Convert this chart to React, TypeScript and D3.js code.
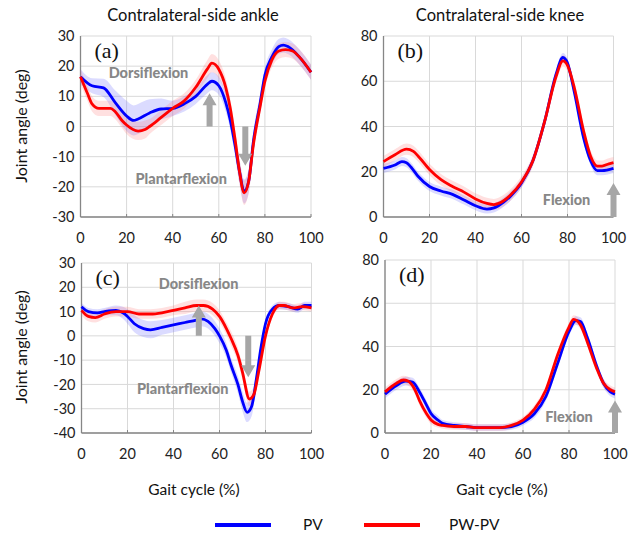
import * as d3 from 'd3'

type Pt = [number, number, number] // gait %, mean angle, sd

// (a) contralateral ankle, top row
const ankleTopPV: Pt[] = [
  [0, 16.5, 2.5], [5, 13.5, 2.5], [10, 12.8, 3], [15, 8, 4], [20, 3.5, 5], [23, 2, 5], [25, 2.5, 5],
  [30, 4.5, 4.5], [35, 5.8, 3.5], [40, 6, 2.5], [45, 7.5, 2.5], [50, 10, 2.5], [55, 14, 3], [57, 15, 3],
  [60, 13.5, 3], [63, 8, 3], [65, 2, 3], [67, -6, 3.5], [69, -15, 4], [71, -21.5, 4], [73, -18, 4],
  [75, -5, 3.5], [78, 8, 3], [80, 17, 2.5], [83, 23, 2.5], [86, 26.5, 2.5], [88, 27, 2.5], [90, 26.5, 2.5],
  [95, 23, 2.5], [100, 18, 2.5],
]
const ankleTopPW: Pt[] = [
  [0, 16.5, 2.5], [3, 11, 2.5], [5, 7.5, 2.5], [8, 6, 2.5], [10, 6, 2.5], [13, 6, 2.5], [15, 5, 2.5],
  [18, 2, 2.5], [20, 0.5, 3], [25, -1.5, 3], [28, -1, 3], [30, 0, 2.5], [35, 3, 2.5], [40, 6, 2.5],
  [45, 8.5, 2.5], [50, 13, 2.5], [55, 19, 3], [57, 21, 3], [60, 19, 3], [63, 13, 3], [65, 6, 3],
  [67, -4, 3.5], [69, -15, 4], [71, -22, 4], [73, -18, 4], [75, -6, 3.5], [78, 7, 3], [80, 15, 2.5],
  [83, 22, 2.5], [86, 25, 2.5], [89, 25.5, 2.5], [92, 25, 2.5], [95, 23, 2.5], [100, 18, 2.5],
]

// (b) contralateral knee, top row
const kneeTopPV: Pt[] = [
  [0, 21.5, 2], [5, 23, 2], [8, 24.5, 2], [10, 24, 2], [12, 22, 2], [15, 18, 2], [20, 13.5, 2],
  [25, 11.5, 2], [30, 10, 2], [35, 7.5, 2], [40, 5, 2], [45, 3.5, 2], [48, 4, 2], [50, 5, 2],
  [55, 9, 2], [60, 15, 2], [65, 25, 2], [70, 42, 2], [75, 63, 2], [78, 70.5, 2], [80, 68, 2],
  [83, 55, 2], [87, 35, 2], [90, 25, 2], [93, 20.5, 2], [95, 20.5, 2], [100, 21.5, 2],
]
const kneeTopPW: Pt[] = [
  [0, 24.5, 2.5], [5, 27.5, 2.5], [10, 30, 2.5], [13, 29, 2.5], [15, 27, 2.5], [20, 21, 2.5],
  [25, 16.5, 2.5], [30, 13.5, 2.5], [35, 11, 2.5], [40, 8, 2.5], [45, 6, 2.5], [48, 5.5, 2.5],
  [50, 6, 2.5], [55, 9.5, 2.5], [60, 15.5, 2.5], [65, 25, 2.5], [70, 42, 2.5], [75, 62, 2.5],
  [78, 69, 2.5], [80, 67, 2.5], [83, 57, 2.5], [87, 38, 2.5], [90, 27, 2.5], [93, 22.5, 2.5],
  [95, 22.5, 2.5], [98, 23.5, 2.5], [100, 24, 2.5],
]

// (c) contralateral ankle, bottom row
const ankleBotPV: Pt[] = [
  [0, 12, 1.5], [3, 10, 1.5], [7, 9.5, 1.5], [10, 10, 1.5], [15, 10.5, 2], [18, 9.5, 2.5], [20, 8, 3],
  [23, 5, 3.5], [27, 3, 3.5], [30, 2.5, 3.5], [35, 3.5, 3], [40, 4.5, 3], [45, 5.5, 3], [50, 6.5, 3],
  [52, 7, 3], [55, 6, 3], [58, 3, 3], [60, 0, 3], [63, -6, 3], [65, -12, 3], [68, -20, 3.5],
  [70, -27, 4], [72, -31.5, 4], [74, -29, 4], [76, -18, 3], [78, -5, 2], [80, 5, 1.5], [83, 11, 1.5],
  [86, 12.5, 1.5], [90, 12, 1.5], [94, 11, 1.5], [97, 12.5, 1.5], [100, 12.5, 1.5],
]
const ankleBotPW: Pt[] = [
  [0, 10.5, 2], [3, 8, 2], [6, 7.5, 2], [10, 9, 2], [15, 10, 2], [20, 10, 2], [25, 9, 2],
  [30, 9, 2], [35, 9.5, 2], [40, 10.5, 2], [45, 11.5, 2.5], [50, 12.5, 2.5], [53, 12.5, 2.5],
  [57, 11, 2.5], [60, 8, 2.5], [63, 3, 2.5], [65, -1, 3], [68, -8, 3], [70, -15, 3], [73, -26, 3],
  [75, -24, 3], [77, -15, 2.5], [80, 0, 2], [83, 9, 1.5], [86, 12.5, 1.5], [88, 12.5, 1.5],
  [92, 11.5, 1.5], [96, 12, 1.5], [100, 11.5, 1.5],
]

// (d) contralateral knee, bottom row
const kneeBotPV: Pt[] = [
  [0, 18, 2], [5, 22, 2], [9, 24, 2], [12, 23.5, 2], [15, 19, 2], [18, 13, 2], [20, 9, 2],
  [23, 6, 2], [25, 4.5, 1.5], [30, 3.5, 1.5], [35, 3, 1.5], [40, 2.5, 1.5], [45, 2.5, 1.5],
  [50, 2.5, 1.5], [55, 3, 1.5], [60, 5, 1.5], [65, 9, 2], [70, 17, 2], [75, 32, 2], [80, 47, 2],
  [83, 52, 2], [85, 51.5, 2], [88, 44, 2], [92, 31, 2], [95, 23, 2], [98, 19, 2], [100, 18, 2],
]
const kneeBotPW: Pt[] = [
  [0, 19, 2], [5, 23, 2], [8, 24.5, 2], [10, 24, 2], [13, 20, 2], [15, 15, 2], [18, 9, 2],
  [20, 6, 2], [23, 4, 1.5], [25, 3.5, 1.5], [30, 3, 1.5], [35, 3, 1.5], [40, 2.5, 1.5],
  [45, 2.5, 1.5], [50, 2.5, 1.5], [55, 3.5, 1.5], [60, 6, 1.5], [65, 11, 2], [70, 20, 2],
  [75, 36, 2], [80, 49, 2], [82, 52.5, 2], [85, 50, 2], [88, 42, 2], [92, 30, 2], [95, 23, 2],
  [98, 20, 2], [100, 19, 2],
]

const xTicks = [0, 20, 40, 60, 80, 100]
const ankleTopTicks = [-30, -20, -10, 0, 10, 20, 30]
const ankleBotTicks = [-40, -30, -20, -10, 0, 10, 20, 30]
const kneeTicks = [0, 20, 40, 60, 80]
const seriesNames = ['PV', 'PW-PV']

const FONT = 'Lato, "Open Sans", sans-serif'
const BLUE = '#0000ff'
const RED = '#ff0000'
const GREY = '#a6a6a6'

interface Note { text: string; x: number; y: number }
interface Arrow { x: number; from: number; to: number }

interface PanelProps {
  left: number; right: number; top: number; bottom: number
  domain: [number, number]
  yTicks: number[]
  pv: Pt[]; pw: Pt[]
  tag: string
  notes: Note[]
  arrows: Arrow[]
}

function Panel({ left, right, top, bottom, domain, yTicks, pv, pw, tag, notes, arrows }: PanelProps) {
  const x = d3.scaleLinear().domain([0, 100]).range([left, right])
  const y = d3.scaleLinear().domain(domain).range([bottom, top])

  const line = d3.line<Pt>().x(d => x(d[0])).y(d => y(d[1])).curve(d3.curveMonotoneX)
  const band = d3.area<Pt>().x(d => x(d[0])).y0(d => y(d[1] - d[2])).y1(d => y(d[1] + d[2])).curve(d3.curveMonotoneX)

  return (
    <g>
      {/* grid */}
      {yTicks.map(t => (
        <line key={'h' + t} x1={left} x2={right} y1={y(t)} y2={y(t)} stroke="#d9d9d9" strokeWidth={1} />
      ))}
      {xTicks.map(t => (
        <line key={'v' + t} x1={x(t)} x2={x(t)} y1={top} y2={bottom} stroke="#d9d9d9" strokeWidth={1} />
      ))}
      {/* axes */}
      <line x1={left} x2={left} y1={top} y2={bottom} stroke="#868686" strokeWidth={1.3} />
      <line x1={left} x2={right} y1={bottom} y2={bottom} stroke="#868686" strokeWidth={1.3} />
      {xTicks.map(t => (
        <line key={'t' + t} x1={x(t)} x2={x(t)} y1={bottom} y2={bottom - 3} stroke="#868686" strokeWidth={1} />
      ))}
      {yTicks.map(t => (
        <text key={'yl' + t} x={left - 6} y={y(t)} dy="0.35em" textAnchor="end" fontSize={14.5} fontFamily={FONT} fill="#222">
          {t}
        </text>
      ))}
      {xTicks.map(t => (
        <text key={'xl' + t} x={x(t)} y={bottom + 26} textAnchor="middle" fontSize={14.5} fontFamily={FONT} fill="#222">
          {t}
        </text>
      ))}

      {/* sd bands and means */}
      <path d={band(pv) ?? ''} fill="#6f6fff" fillOpacity={0.25} />
      <path d={band(pw) ?? ''} fill="#ff7070" fillOpacity={0.22} />
      <path d={line(pv) ?? ''} fill="none" stroke={BLUE} strokeWidth={2.8} />
      <path d={line(pw) ?? ''} fill="none" stroke={RED} strokeWidth={2.8} />

      {/* annotations */}
      {arrows.map((a, i) => {
        const ax = x(a.x)
        const y0 = y(a.from)
        const y1 = y(a.to)
        const dir = y1 < y0 ? 1 : -1
        const head = 12
        const hw = 7
        const sw = 3
        const neck = y1 + dir * head
        const pts = [
          [ax - sw, y0], [ax - sw, neck], [ax - hw, neck], [ax, y1], [ax + hw, neck], [ax + sw, neck], [ax + sw, y0],
        ].map(p => p.join(',')).join(' ')
        return <polygon key={'a' + i} points={pts} fill={GREY} />
      })}
      {notes.map(n => (
        <text key={n.text} x={x(n.x)} y={y(n.y)} textAnchor="middle" fontSize={14.5} fontWeight="900" fontFamily={FONT} fill="#878787">
          {n.text}
        </text>
      ))}
      <text x={left + 14} y={top + 22} fontSize={22} fontFamily='"Liberation Serif", "DejaVu Serif", serif' fill="#111">
        {tag}
      </text>
    </g>
  )
}

export default function App() {
  return (
    <svg width={636} height={536} style={{ position: 'absolute', left: 0, top: 0, background: '#fff' }}>
      <text x={193} y={21} textAnchor="middle" fontSize={16.5} fontFamily={FONT} fill="#111">Contralateral-side ankle</text>
      <text x={500} y={21} textAnchor="middle" fontSize={16.5} fontFamily={FONT} fill="#111">Contralateral-side knee</text>

      <text transform="translate(27,126) rotate(-90)" textAnchor="middle" fontSize={16} fontFamily={FONT} fill="#111">Joint angle (deg)</text>
      <text transform="translate(27,347) rotate(-90)" textAnchor="middle" fontSize={16} fontFamily={FONT} fill="#111">Joint angle (deg)</text>

      <Panel left={80.5} right={311} top={36} bottom={217} domain={[-30, 30]} yTicks={ankleTopTicks}
        pv={ankleTopPV} pw={ankleTopPW} tag="(a)"
        notes={[{ text: 'Dorsiflexion', x: 29.5, y: 16.2 }, { text: 'Plantarflexion', x: 43.7, y: -19.2 }]}
        arrows={[{ x: 56, from: 0, to: 11 }, { x: 71.5, from: 0, to: -13 }]} />
      <Panel left={383.5} right={613.5} top={36} bottom={217} domain={[0, 80]} yTicks={kneeTicks}
        pv={kneeTopPV} pw={kneeTopPW} tag="(b)"
        notes={[{ text: 'Flexion', x: 79.6, y: 5.2 }]}
        arrows={[{ x: 100, from: 0, to: 15 }]} />
      <Panel left={81.5} right={311.5} top={263} bottom={433} domain={[-40, 30]} yTicks={ankleBotTicks}
        pv={ankleBotPV} pw={ankleBotPW} tag="(c)"
        notes={[{ text: 'Dorsiflexion', x: 50.9, y: 19.3 }, { text: 'Plantarflexion', x: 44, y: -23.9 }]}
        arrows={[{ x: 51, from: 0, to: 12.5 }, { x: 72.5, from: 0, to: -17 }]} />
      <Panel left={385} right={615} top={260} bottom={433} domain={[0, 80]} yTicks={kneeTicks}
        pv={kneeBotPV} pw={kneeBotPW} tag="(d)"
        notes={[{ text: 'Flexion', x: 80, y: 5 }]}
        arrows={[{ x: 100, from: 0, to: 15 }]} />

      <text x={194} y={495} textAnchor="middle" fontSize={15.5} fontFamily={FONT} fill="#111">Gait cycle (%)</text>
      <text x={502} y={495} textAnchor="middle" fontSize={15.5} fontFamily={FONT} fill="#111">Gait cycle (%)</text>

      {/* legend */}
      {seriesNames.map((name, i) => {
        const lx = i === 0 ? 215 : 364
        const tx = i === 0 ? 303 : 449
        return (
          <g key={name}>
            <line x1={lx} x2={lx + 56} y1={525} y2={525} stroke={i === 0 ? BLUE : RED} strokeWidth={4} />
            <text x={tx} y={530} fontSize={15.5} fontFamily={FONT} fill="#111">{name}</text>
          </g>
        )
      })}
    </svg>
  )
}
